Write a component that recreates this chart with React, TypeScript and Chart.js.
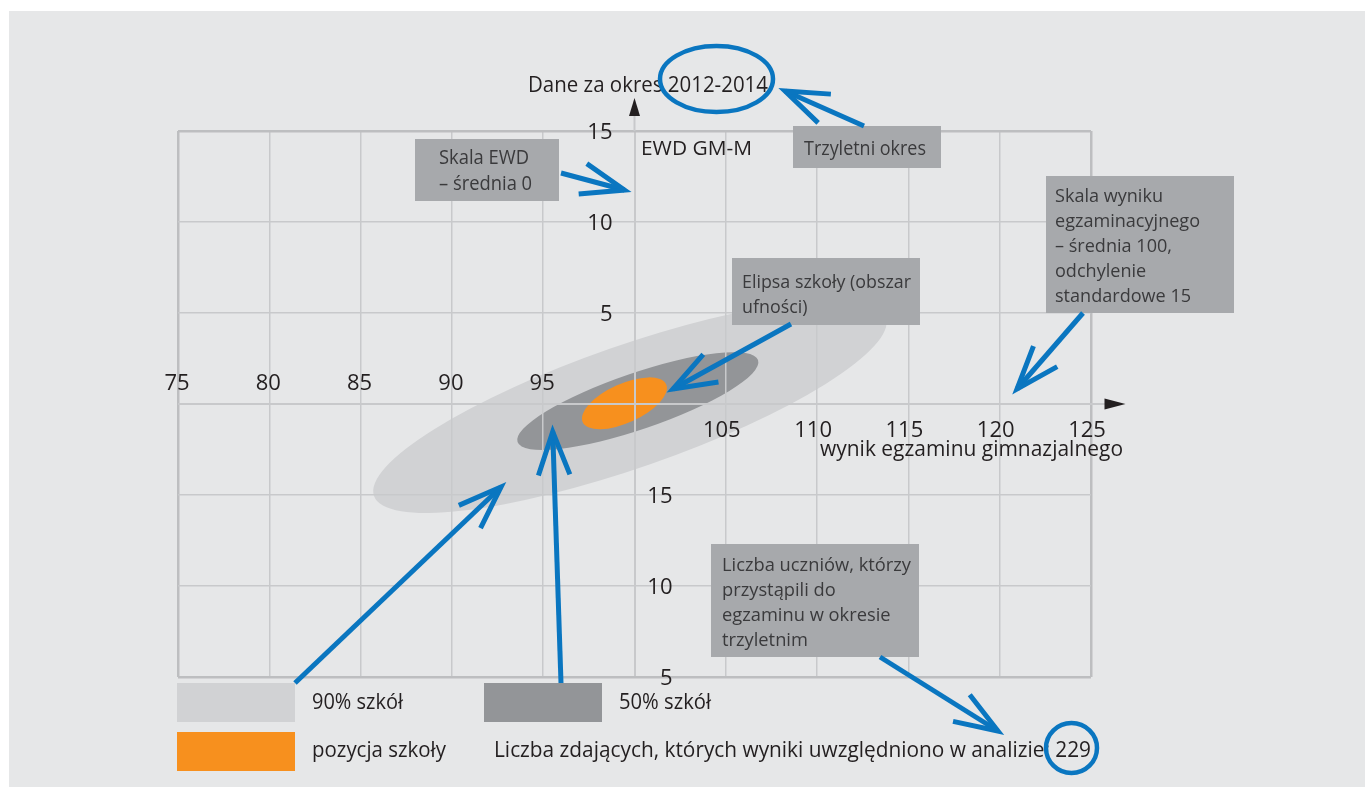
import React, { useEffect, useRef } from "react";
import { Chart, registerables } from "chart.js";

Chart.register(...registerables);

// ---------- data ----------
const xMin = 75;
const xMax = 125;
const yMin = -15;
const yMax = 15;
const tickStep = 5;

const xTicksAbove = [75, 80, 85, 90, 95];
const xTicksBelow = [105, 110, 115, 120, 125];
const yTickValuesUpper = [15, 10, 5];
const yTickLabelsUpper = ["15", "10", "5"];
const yTickValuesLower = [-5, -10, -15];
const yTickLabelsLower = ["15", "10", "5"];

const ellipseLabels = ["90% szkół", "50% szkół", "pozycja szkoły"];
const ellipseCenterX = [99.75, 100.18, 99.45];
const ellipseCenterY = [-0.14, 0.16, 0.04];
const ellipseSemiMajor = [14.85, 6.96, 2.51];
const ellipseSemiMinor = [3.36, 1.55, 1.07];
const ellipseAngleDeg = [19.3, 18.9, 24.4];
const ellipseColors = ["#d1d2d4", "#939598", "#f7901e"];

const periodText = "2012-2014";
const studentCount = 229;
const xAxisTitle = "wynik egzaminu gimnazjalnego";
const yAxisTitle = "EWD GM-M";

// ---------- styles / layout ----------
const FONT = '"Open Sans", "DejaVu Sans", sans-serif';
const TEXT = "#231f20";
const BOX_TEXT = "#3a3a3c";
const BOX_FILL = "#a7a9ac";
const BLUE = "#0a76c0";
const GRID = "#c8c9cb";
const GRID_EDGE = "#bdbec0";
const PANEL = "#e6e7e8";

type Box = { x: number; y: number; w: number; h: number; tx: number; base: number; lh: number; size: number; w0: number; lines: string[] };
const boxes: Box[] = [
  { x: 415, y: 139, w: 144, h: 62, tx: 439, base: 164, lh: 25.5, size: 20, w0: 90, lines: ["Skala EWD", "– średnia 0"] },
  { x: 793, y: 126, w: 148, h: 42, tx: 804, base: 155, lh: 25, size: 20, w0: 122, lines: ["Trzyletni okres"] },
  { x: 732, y: 258, w: 188, h: 67, tx: 742, base: 288, lh: 24.5, size: 19, w0: 169, lines: ["Elipsa szkoły (obszar", "ufności)"] },
  { x: 1046, y: 176, w: 188, h: 137, tx: 1055, base: 202, lh: 25, size: 19, w0: 108, lines: ["Skala wyniku", "egzaminacyjnego", "– średnia 100,", "odchylenie", "standardowe 15"] },
  { x: 711, y: 544, w: 208, h: 113, tx: 722, base: 571, lh: 25, size: 19, w0: 189, lines: ["Liczba uczniów, którzy", "przystąpili do", "egzaminu w okresie", "trzyletnim"] },
];

const arrows: [number, number, number, number][] = [
  [864, 126, 785, 91],
  [561, 173, 624.5, 190],
  [791, 324, 673, 389],
  [1083, 313, 1017, 389],
  [295, 683, 501, 487],
  [561, 683, 552.7, 431.7],
  [880, 657, 998, 731],
];

function drawText(
  ctx: CanvasRenderingContext2D,
  text: string,
  x: number,
  y: number,
  size: number,
  color: string,
  targetW?: number,
  align: CanvasTextAlign = "left",
  sxOverride?: number
) {
  ctx.save();
  ctx.font = `${size}px ${FONT}`;
  ctx.fillStyle = color;
  ctx.textBaseline = "alphabetic";
  ctx.textAlign = align;
  const w = ctx.measureText(text).width;
  const sx = sxOverride ?? (targetW ? targetW / w : 1);
  ctx.translate(x, y);
  ctx.scale(sx, 1);
  ctx.fillText(text, 0, 0);
  ctx.restore();
}

function drawArrow(ctx: CanvasRenderingContext2D, x1: number, y1: number, x2: number, y2: number) {
  const ang = Math.atan2(y1 - y2, x1 - x2);
  const L = 46;
  const h = (20 * Math.PI) / 180;
  ctx.save();
  ctx.strokeStyle = BLUE;
  ctx.lineWidth = 5;
  ctx.lineCap = "butt";
  ctx.lineJoin = "miter";
  ctx.beginPath();
  ctx.moveTo(x1, y1);
  ctx.lineTo(x2, y2);
  ctx.stroke();
  ctx.beginPath();
  ctx.moveTo(x2 + L * Math.cos(ang + h), y2 + L * Math.sin(ang + h));
  ctx.lineTo(x2, y2);
  ctx.lineTo(x2 + L * Math.cos(ang - h), y2 + L * Math.sin(ang - h));
  ctx.stroke();
  ctx.restore();
}

const backgroundAndEllipses = {
  id: "bgEllipses",
  beforeDraw(chart: any) {
    const ctx: CanvasRenderingContext2D = chart.ctx;
    ctx.save();
    ctx.fillStyle = "#ffffff";
    ctx.fillRect(0, 0, chart.width, chart.height);
    ctx.fillStyle = PANEL;
    ctx.fillRect(9, 11, chart.width - 9, chart.height - 11);
    const xs = chart.scales.x;
    const ys = chart.scales.y;
    const ux = xs.getPixelForValue(1) - xs.getPixelForValue(0);
    const uy = ys.getPixelForValue(0) - ys.getPixelForValue(1);
    chart.data.datasets.forEach((ds: any) => {
      const p = ds.data[0];
      ctx.save();
      ctx.translate(xs.getPixelForValue(p.x), ys.getPixelForValue(p.y));
      ctx.transform(ux, 0, 0, -uy, 0, 0);
      ctx.rotate((ds.angleDeg * Math.PI) / 180);
      ctx.beginPath();
      ctx.ellipse(0, 0, ds.semiMajor, ds.semiMinor, 0, 0, Math.PI * 2);
      ctx.restore();
      ctx.fillStyle = ds.fillColor;
      ctx.fill();
    });
    ctx.restore();
  },
};

const annotations = {
  id: "annotations",
  afterDraw(chart: any) {
    const ctx: CanvasRenderingContext2D = chart.ctx;
    const xs = chart.scales.x;
    const ys = chart.scales.y;
    const area = chart.chartArea;
    const x100 = xs.getPixelForValue(100);
    const y0 = ys.getPixelForValue(0);

    // axis extensions with arrowheads
    ctx.save();
    ctx.strokeStyle = GRID;
    ctx.lineWidth = 2;
    ctx.beginPath();
    ctx.moveTo(x100, area.top);
    ctx.lineTo(x100, area.top - 16);
    ctx.moveTo(area.right, y0);
    ctx.lineTo(area.right + 14, y0);
    ctx.stroke();
    ctx.fillStyle = TEXT;
    ctx.beginPath();
    ctx.moveTo(x100, area.top - 33);
    ctx.lineTo(x100 + 5.5, area.top - 15);
    ctx.lineTo(x100 - 5.5, area.top - 15);
    ctx.closePath();
    ctx.fill();
    ctx.beginPath();
    ctx.moveTo(area.right + 34.5, y0);
    ctx.lineTo(area.right + 13.5, y0 - 5.5);
    ctx.lineTo(area.right + 13.5, y0 + 5.5);
    ctx.closePath();
    ctx.fill();
    ctx.restore();

    // tick labels
    xTicksAbove.forEach((v) => drawText(ctx, String(v), xs.getPixelForValue(v) - 1, y0 - 14, 22, TEXT, undefined, "center"));
    xTicksBelow.forEach((v) => drawText(ctx, String(v), xs.getPixelForValue(v) - 4, y0 + 33, 22, TEXT, undefined, "center"));
    yTickValuesUpper.forEach((v, i) => drawText(ctx, yTickLabelsUpper[i], x100 - 22, ys.getPixelForValue(v) + 7.5, 22, TEXT, undefined, "right"));
    yTickValuesLower.forEach((v, i) => drawText(ctx, yTickLabelsLower[i], x100 + 38, ys.getPixelForValue(v) + 7.5, 22, TEXT, undefined, "right"));

    // titles
    drawText(ctx, "Dane za okres " + periodText, 528, 92, 22, TEXT, 240);
    drawText(ctx, yAxisTitle, 641, 155, 20, TEXT, 111);
    drawText(ctx, xAxisTitle, 820, 456, 22, TEXT, 303);

    // annotation boxes
    boxes.forEach((b) => {
      ctx.save();
      ctx.fillStyle = BOX_FILL;
      ctx.fillRect(b.x, b.y, b.w, b.h);
      ctx.font = `${b.size}px ${FONT}`;
      const sx = b.w0 / ctx.measureText(b.lines[0]).width;
      ctx.restore();
      b.lines.forEach((ln, i) => drawText(ctx, ln, b.tx, b.base + i * b.lh, b.size, BOX_TEXT, undefined, "left", sx));
    });

    // legend
    const sw = [
      [177, 683, ellipseColors[0]],
      [484, 683, ellipseColors[1]],
      [177, 732, ellipseColors[2]],
    ] as [number, number, string][];
    sw.forEach(([x, y, c]) => {
      ctx.fillStyle = c;
      ctx.fillRect(x, y, 118, 39);
    });
    drawText(ctx, ellipseLabels[0], 312, 709, 22, TEXT, 91);
    drawText(ctx, ellipseLabels[1], 619, 709, 22, TEXT, 92);
    drawText(ctx, ellipseLabels[2], 312, 757, 22, TEXT, 134);
    drawText(ctx, "Liczba zdających, których wyniki uwzględniono w analizie: " + studentCount, 494, 757, 22, TEXT, 597);

    // blue arrows
    arrows.forEach(([a, b, c, d]) => drawArrow(ctx, a, b, c, d));

    // blue circles
    ctx.save();
    ctx.strokeStyle = BLUE;
    ctx.lineWidth = 4.5;
    ctx.beginPath();
    ctx.ellipse(716.5, 79, 56.5, 33, 0, 0, Math.PI * 2);
    ctx.stroke();
    ctx.beginPath();
    ctx.ellipse(1071.5, 748, 25.5, 25, 0, 0, Math.PI * 2);
    ctx.stroke();
    ctx.restore();
  },
};

export default function App() {
  const ref = useRef<HTMLCanvasElement | null>(null);
  useEffect(() => {
    if (!ref.current) return;
    const gridWidth = (ctx: any, isX: boolean) => {
      const v = ctx.tick?.value;
      if (v === undefined) return 1.5;
      if (isX ? v === xMin || v === xMax : v === yMin || v === yMax) return 2.5;
      if (isX ? v === 100 : v === 0) return 2;
      return 1.5;
    };
    const gridColor = (ctx: any, isX: boolean) => {
      const v = ctx.tick?.value;
      if (isX ? v === xMin || v === xMax : v === yMin || v === yMax) return GRID_EDGE;
      return GRID;
    };
    const chart = new Chart(ref.current, {
      type: "scatter",
      data: {
        datasets: ellipseLabels.map((label, i) => ({
          label,
          data: [{ x: ellipseCenterX[i], y: ellipseCenterY[i] }],
          pointRadius: 0,
          semiMajor: ellipseSemiMajor[i],
          semiMinor: ellipseSemiMinor[i],
          angleDeg: ellipseAngleDeg[i],
          fillColor: ellipseColors[i],
        })) as any,
      },
      options: {
        animation: false,
        responsive: false,
        events: [],
        layout: { padding: { left: 178, top: 131, right: 274, bottom: 110 } },
        plugins: { legend: { display: false }, tooltip: { enabled: false } },
        scales: {
          x: {
            type: "linear",
            min: xMin,
            max: xMax,
            ticks: { display: false, stepSize: tickStep },
            border: { display: false },
            grid: { drawTicks: false, color: (c: any) => gridColor(c, true), lineWidth: (c: any) => gridWidth(c, true) },
            afterFit: (s: any) => {
              s.height = 0;
            },
          },
          y: {
            type: "linear",
            min: yMin,
            max: yMax,
            ticks: { display: false, stepSize: tickStep },
            border: { display: false },
            grid: { drawTicks: false, color: (c: any) => gridColor(c, false), lineWidth: (c: any) => gridWidth(c, false) },
            afterFit: (s: any) => {
              s.width = 0;
            },
          },
        },
      },
      plugins: [backgroundAndEllipses, annotations],
    });
    return () => chart.destroy();
  }, []);
  return (
    <div style={{ position: "absolute", left: 0, top: 0, width: 1365, height: 787 }}>
      <canvas ref={ref} width={1365} height={787} style={{ display: "block", width: 1365, height: 787 }} />
    </div>
  );
}
